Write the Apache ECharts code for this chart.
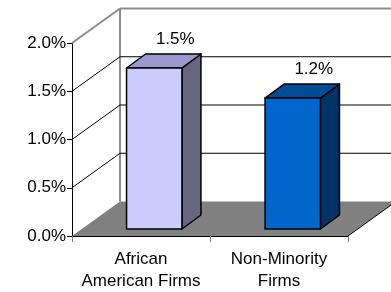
<!DOCTYPE html>
<html>
<head>
<meta charset="utf-8">
<script src="https://cdn.jsdelivr.net/npm/echarts@6/dist/echarts.min.js"></script>
<style>
html,body{margin:0;padding:0;background:#fff;}
#c{width:391px;height:292px;}
</style>
</head>
<body>
<div id="c"></div>
<script>
// ---- data ----
var categories = ['African\nAmerican Firms', 'Non-Minority\nFirms'];
var shareValues = [1.5, 1.22];           // percent
var tickValues = [0, 0.5, 1.0, 1.5, 2.0]; // axis ticks, percent

// ---- style constants ----
var FONT = 'Liberation Sans, Arial, sans-serif';
var WALL_DX = 48, WALL_DY = -34.5;   // depth of the 3D frame
var BAR_DX = 19, BAR_DY = -14;     // depth of the bars
var faceColors = [
  {front: '#CCCCFF', top: '#9999CC', side: '#666680'},
  {front: '#0066CC', top: '#004C99', side: '#003366'}
];

var chart = echarts.init(document.getElementById('c'), null, {renderer: 'canvas'});

function frameItem(params, api) {
  var c0 = api.coord([0, 0]);
  var c1 = api.coord([categories.length - 1, 0]);
  var bw = api.size([1, 0])[0];
  var L = c0[0] - bw / 2, R = c1[0] + bw / 2, y0 = c0[1];
  var children = [];
  // floor
  children.push({type: 'polygon', shape: {points: [[L, y0], [R, y0], [R + WALL_DX, y0 + WALL_DY], [L + WALL_DX, y0 + WALL_DY]]},
    style: {fill: '#808080', stroke: null}});
  // floor right edge
  children.push({type: 'line', shape: {x1: R, y1: y0, x2: R + WALL_DX, y2: y0 + WALL_DY}, style: {stroke: '#000', lineWidth: 1}});
  var yTop = api.coord([0, tickValues[tickValues.length - 1]])[1];
  // back wall left edge
  children.push({type: 'line', shape: {x1: L + WALL_DX, y1: y0 + WALL_DY, x2: L + WALL_DX, y2: yTop + WALL_DY}, style: {stroke: '#8c8c8c', lineWidth: 2}});
  for (var i = 1; i < tickValues.length; i++) {
    var v = tickValues[i];
    var y = api.coord([0, v])[1];
    var isTop = i === tickValues.length - 1;
    var st = isTop ? {stroke: '#8c8c8c', lineWidth: 2} : {stroke: '#000', lineWidth: 1};
    children.push({type: 'line', shape: {x1: L, y1: y, x2: L + WALL_DX, y2: y + WALL_DY}, style: st});
    children.push({type: 'line', shape: {x1: L + WALL_DX, y1: y + WALL_DY, x2: R + WALL_DX + 10, y2: y + WALL_DY}, style: st});
  }
  return {type: 'group', children: children};
}

function barItem(params, api) {
  var idx = params.dataIndex;
  var v = api.value(1);
  var base = api.coord([api.value(0), 0]);
  var top = api.coord([api.value(0), v]);
  var w = api.size([1, 0])[0] * 0.4;
  var xl = base[0] - w / 2, xr = base[0] + w / 2, yb = base[1], yt = top[1];
  var col = faceColors[idx];
  var edge = {stroke: '#000', lineWidth: 1.5, lineJoin: 'round'};
  return {type: 'group', children: [
    {type: 'polygon', shape: {points: [[xr, yt], [xr + BAR_DX, yt + BAR_DY], [xr + BAR_DX, yb + BAR_DY], [xr, yb]]},
      style: Object.assign({fill: col.side}, edge)},
    {type: 'polygon', shape: {points: [[xl, yt], [xr, yt], [xr + BAR_DX, yt + BAR_DY], [xl + BAR_DX, yt + BAR_DY]]},
      style: Object.assign({fill: col.top}, edge)},
    {type: 'rect', shape: {x: xl, y: yt, width: w, height: yb - yt},
      style: Object.assign({fill: col.front}, edge)},
    {type: 'text', x: base[0] + BAR_DX + 2, y: yt + BAR_DY - 6,
      style: {text: v.toFixed(1) + '%', fill: '#000', font: '17px ' + FONT, textAlign: 'center', textVerticalAlign: 'bottom'}}
  ]};
}

chart.setOption({
  animation: false,
  backgroundColor: '#fff',
  grid: [
    {left: 72, right: 43, top: 43, bottom: 52},
    {left: 85, right: 29, top: 14.33, bottom: 63}
  ],
  xAxis: [
    {type: 'category', gridIndex: 0, data: categories,
      axisLine: {show: true, lineStyle: {color: '#000', width: 1}},
      axisTick: {show: true, length: 6, lineStyle: {color: '#808080'}},
      axisLabel: {interval: 0, color: '#000', fontSize: 17, fontFamily: FONT, lineHeight: 22, margin: 12}},
    {type: 'category', gridIndex: 1, data: categories, show: false}
  ],
  yAxis: [
    {type: 'value', gridIndex: 0, min: 0, max: 2, interval: 0.5,
      axisLine: {show: true, lineStyle: {color: '#000', width: 1}},
      axisTick: {show: true, length: 5, lineStyle: {color: '#000'}},
      splitLine: {show: false},
      axisLabel: {color: '#000', fontSize: 17, fontFamily: FONT, margin: 6,
        formatter: function (v) { return v.toFixed(1) + '%'; }}},
    {type: 'value', gridIndex: 1, min: 0, max: 2, show: false}
  ],
  series: [
    {type: 'custom', xAxisIndex: 0, yAxisIndex: 0, renderItem: frameItem, data: [[0, 0]], z: 1, silent: true, clip: false},
    {type: 'custom', xAxisIndex: 1, yAxisIndex: 1, renderItem: barItem,
      data: shareValues.map(function (v, i) { return [i, v]; }), z: 5, clip: false}
  ]
});
</script>
</body>
</html>
